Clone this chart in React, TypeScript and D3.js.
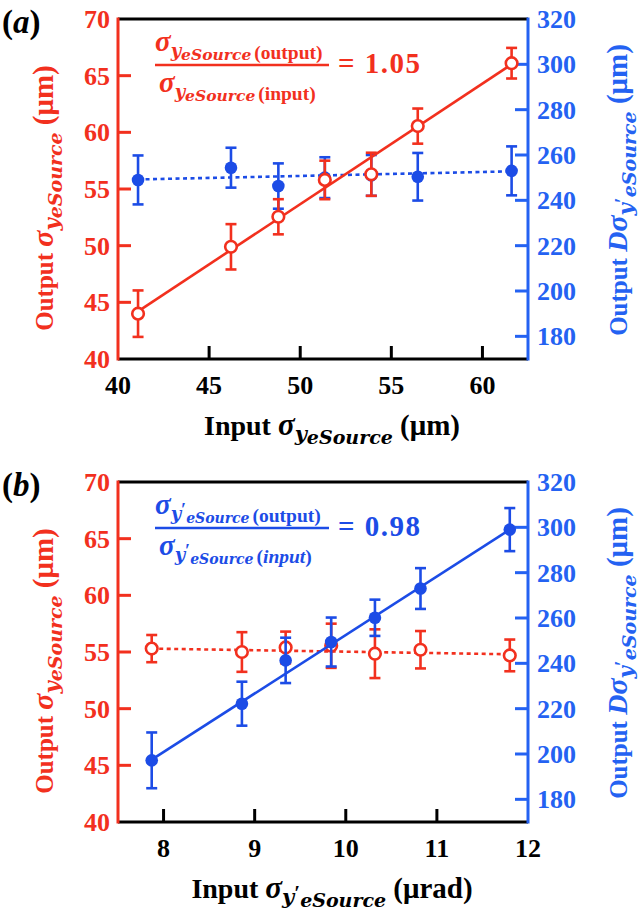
import React from "react";
import * as d3 from "d3";

// panel (a): x = input sigma_y (um)
const aInput = [41.1, 46.2, 48.8, 51.35, 53.9, 56.45, 61.6];
const aSigma = [44.0, 49.9, 52.55, 55.8, 56.3, 60.55, 66.1];
const aSigmaErr = [2.05, 2.0, 1.55, 1.7, 1.9, 1.55, 1.35];
const aDiv = [249.0, 254.4, 246.3, 250.0, 251.0, 250.4, 253.0];
const aDivErr = [10.8, 8.8, 10.0, 9.0, 9.0, 10.5, 10.8];
const aSigmaFit = [44.2, 66.0];
const aDivFit = [249.2, 252.8];
const aXTicks = [40, 45, 50, 55, 60];

// panel (b): x = input sigma_y' (urad)
const bInput = [7.87, 8.86, 9.34, 9.84, 10.32, 10.82, 11.8];
const bSigma = [55.3, 55.0, 55.4, 55.55, 54.85, 55.2, 54.7];
const bSigmaErr = [1.2, 1.75, 1.4, 1.95, 2.15, 1.65, 1.4];
const bDiv = [197.2, 222.2, 241.3, 249.4, 260.1, 273.0, 299.0];
const bDivErr = [12.3, 9.7, 10.0, 10.8, 8.0, 9.0, 9.5];
const bSigmaFit = [55.3, 54.8];
const bDivFit = [197.5, 299.0];
const bXTicks = [8, 9, 10, 11, 12];

const leftTicks = [40, 45, 50, 55, 60, 65, 70];
const rightTicks = [180, 200, 220, 240, 260, 280, 300, 320];

const RED = "#f2301e";
const BLUE = "#1c4ce6";
const AXBLUE = "#2462f2";
const serif = "Liberation Serif, Times New Roman, serif";
const math = "DejaVu Serif, serif";

const plotL = 118;
const plotR = 528;

// sigma with nested subscript y (or y') and eSource
const SigmaSub = ({ prime, big, sub1, sub2 }: any) => (
  <>
    <tspan style={{ fontFamily: serif }} fontStyle="italic" fontSize={big}>σ</tspan>
    <tspan style={{ fontFamily: math }} fontStyle="italic" fontSize={sub1} dy={big * 0.2}>y</tspan>
    {prime && (
      <tspan style={{ fontFamily: serif }} fontStyle="normal" fontSize={sub1} dy={-sub1 * 0.2}>′</tspan>
    )}
    <tspan style={{ fontFamily: math }} fontStyle="italic" fontSize={sub2}
      dy={big * 0.1 + (prime ? sub1 * 0.2 : 0)}>
      eSource
    </tspan>
  </>
);

const Panel = ({ top, bottom, letter, xDomain, xTicks, input, sigma, sigmaErr, div, divErr,
  sigmaFit, divFit, xUnit, prime, ratio, annColor, blueOnTop }: any) => {
  const x = d3.scaleLinear().domain(xDomain).range([plotL, plotR]);
  const yL = d3.scaleLinear().domain([40, 70]).range([bottom, top]);
  const yR = d3.scaleLinear().domain([170, 320]).range([bottom, top]);
  const tick = 13;
  const cap = 5.5;
  const x0 = input[0];
  const x1 = input[input.length - 1];

  const redSeries = (
    <g key="red">
      <line x1={x(x0)} x2={x(x1)} y1={yL(sigmaFit[0])} y2={yL(sigmaFit[1])}
        stroke={RED} strokeWidth={2.6} strokeDasharray={blueOnTop ? "4 3.5" : undefined} />
      {input.map((v: number, i: number) => {
        const hi = yL(sigma[i] + sigmaErr[i]);
        const lo = yL(sigma[i] - sigmaErr[i]);
        return (
          <g key={i} stroke={RED} strokeWidth={2.6}>
            <line x1={x(v)} x2={x(v)} y1={hi} y2={lo} />
            <line x1={x(v) - cap} x2={x(v) + cap} y1={hi} y2={hi} />
            <line x1={x(v) - cap} x2={x(v) + cap} y1={lo} y2={lo} />
            <circle cx={x(v)} cy={yL(sigma[i])} r={5.8} fill="#fff" />
          </g>
        );
      })}
    </g>
  );
  const blueSeries = (
    <g key="blue">
      <line x1={x(x0)} x2={x(x1)} y1={yR(divFit[0])} y2={yR(divFit[1])}
        stroke={BLUE} strokeWidth={2.6} strokeDasharray={blueOnTop ? undefined : "4 3.5"} />
      {input.map((v: number, i: number) => {
        const hi = yR(div[i] + divErr[i]);
        const lo = yR(div[i] - divErr[i]);
        return (
          <g key={i} stroke={BLUE} strokeWidth={2.6}>
            <line x1={x(v)} x2={x(v)} y1={hi} y2={lo} />
            <line x1={x(v) - cap} x2={x(v) + cap} y1={hi} y2={hi} />
            <line x1={x(v) - cap} x2={x(v) + cap} y1={lo} y2={lo} />
            <circle cx={x(v)} cy={yR(div[i])} r={6.3} fill={BLUE} stroke="none" />
          </g>
        );
      })}
    </g>
  );

  const midY = (top + bottom) / 2;
  const sub2 = prime ? 14 : 15.5;

  return (
    <g style={{ fontFamily: serif }} fontWeight="bold">
      {/* panel letter */}
      <text x={2} y={top + 14} fontSize={33} fill="#000">
        (<tspan fontStyle="italic">{letter}</tspan>)
      </text>

      {/* frame */}
      <line x1={plotL} x2={plotR} y1={top} y2={top} stroke="#000" strokeWidth={3} />
      <line x1={plotL} x2={plotR} y1={bottom} y2={bottom} stroke="#000" strokeWidth={3} />
      <line x1={plotL} x2={plotL} y1={top - 1.5} y2={bottom + 1.5} stroke={RED} strokeWidth={3} />
      <line x1={plotR} x2={plotR} y1={top - 1.5} y2={bottom + 1.5} stroke={AXBLUE} strokeWidth={3} />

      {/* left axis */}
      {leftTicks.map((t) => (
        <g key={t}>
          {t > 40 && t < 70 && (
            <line x1={plotL} x2={plotL + tick} y1={yL(t)} y2={yL(t)} stroke={RED} strokeWidth={3} />
          )}
          <text x={110} y={yL(t) + 9} textAnchor="end" fontSize={26} fill={RED}>{t}</text>
        </g>
      ))}
      {/* right axis */}
      {rightTicks.map((t) => (
        <g key={t}>
          {t < 320 && (
            <line x1={plotR - tick} x2={plotR} y1={yR(t)} y2={yR(t)} stroke={AXBLUE} strokeWidth={3} />
          )}
          <text x={537} y={yR(t) + 9} fontSize={26} fill={AXBLUE}>{t}</text>
        </g>
      ))}
      {/* bottom axis */}
      {xTicks.map((t: number) => (
        <g key={t}>
          {x(t) > plotL + 2 && x(t) < plotR - 2 && (
            <line x1={x(t)} x2={x(t)} y1={bottom} y2={bottom - tick} stroke="#000" strokeWidth={3} />
          )}
          <text x={x(t)} y={bottom + 35} textAnchor="middle" fontSize={26} fill="#000">{t}</text>
        </g>
      ))}

      {blueOnTop ? [redSeries, blueSeries] : [blueSeries, redSeries]}

      {/* axis titles */}
      <text transform={`translate(53,${midY + 9}) rotate(-90)`} textAnchor="middle" fontSize={25} fill={RED}>
        Output <SigmaSub big={30} sub1={21} sub2={19} />
        <tspan fontSize={29} dy={-30 * 0.3}> (μm)</tspan>
      </text>
      <text transform={`translate(627,${midY + 1}) rotate(-90)`} textAnchor="middle" fontSize={25} fill={AXBLUE}>
        Output <tspan fontStyle="italic" fontSize={28}>D</tspan>
        <SigmaSub prime big={30} sub1={21} sub2={19} />
        <tspan fontSize={29} dy={-30 * 0.3}> (μm)</tspan>
      </text>
      <text x={332} y={bottom + 76} textAnchor="middle" fontSize={28} fill="#000">
        Input <SigmaSub prime={prime} big={31} sub1={21} sub2={19} />
        <tspan fontSize={29} dy={-31 * 0.3}> {xUnit}</tspan>
      </text>

      {/* ratio annotation */}
      <g fill={annColor}>
        <text x={155} y={top + 32} fontSize={24}>
          <SigmaSub prime={prime} big={29} sub1={18} sub2={sub2} />
          <tspan fontSize={19.5} dy={-1} dx={3}>(output)</tspan>
        </text>
        <line x1={155} x2={329} y1={top + 46} y2={top + 46} stroke={annColor} strokeWidth={2.5} />
        <text x={159} y={top + 73} fontSize={24}>
          <SigmaSub prime={prime} big={29} sub1={18} sub2={sub2} />
          <tspan fontSize={19.5} dy={-1} dx={3}>(</tspan>
          <tspan fontSize={19.5} fontStyle={prime ? "italic" : "normal"}>input</tspan>
          <tspan fontSize={19.5}>)</tspan>
        </text>
        <text x={338} y={top + 54} fontSize={29} letterSpacing={1.5}>= {ratio}</text>
      </g>
    </g>
  );
};

export default function App() {
  return (
    <svg width={640} height={914} viewBox="0 0 640 914"
      style={{ position: "absolute", left: 0, top: 0, background: "#fff", fontFamily: serif }}>
      <rect width={640} height={914} fill="#fff" />
      <Panel top={19} bottom={359} letter="a" xDomain={[40, 62.5]} xTicks={aXTicks}
        input={aInput} sigma={aSigma} sigmaErr={aSigmaErr} div={aDiv} divErr={aDivErr}
        sigmaFit={aSigmaFit} divFit={aDivFit} xUnit="(μm)" prime={false}
        ratio="1.05" annColor={RED} blueOnTop={false} />
      <Panel top={482} bottom={822} letter="b" xDomain={[7.5, 12]} xTicks={bXTicks}
        input={bInput} sigma={bSigma} sigmaErr={bSigmaErr} div={bDiv} divErr={bDivErr}
        sigmaFit={bSigmaFit} divFit={bDivFit} xUnit="(μrad)" prime={true}
        ratio="0.98" annColor={BLUE} blueOnTop={true} />
    </svg>
  );
}
